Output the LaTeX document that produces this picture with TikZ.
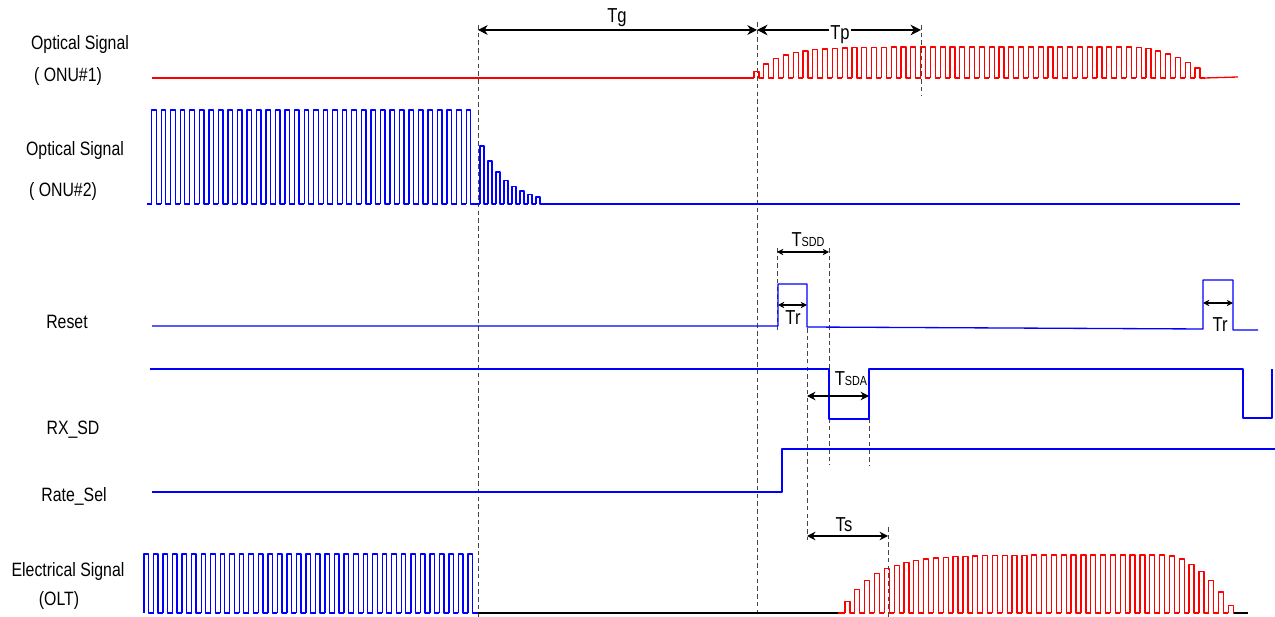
\documentclass[tikz,border=0pt]{standalone}
\usepackage{fontspec}
\setmainfont{Liberation Sans}[FakeStretch=0.82]
\usetikzlibrary{arrows.meta}
\tikzset{
  sigblue/.style={blue, line width=0.75pt},
  sigred/.style={red, line width=0.75pt},
  sigblack/.style={black, line width=0.75pt},
  guide/.style={gray!55!black, line width=0.45pt, dash pattern=on 2.6pt off 1.8pt},
  dim/.style={line width=0.6pt, {Stealth[length=#1, width=#1]}-{Stealth[length=#1, width=#1]}},
  lbl/.style={font=\fontsize{11}{13}\selectfont, inner sep=0pt},
  tlbl/.style={font=\fontsize{11.5}{13}\selectfont, inner sep=1pt},
}
\newcommand{\subsm}[1]{{\fontsize{7.5}{8}\selectfont #1}}
\begin{document}
\begin{tikzpicture}[x=0.02cm, y=-0.02cm, line join=round,
    declare function={rise(\i,\k)=1-0.8*exp(-\i/\k); fall(\i,\n,\d)=1-(max(\i-\n,0)/\d)^2;}]
\useasboundingbox (0,0) rectangle (1275,617);

% signal names
\node[lbl] (on1a) at (80,45) {Optical Signal};
\node[lbl] (on1b) at (68,77) {( ONU\#1)};
\node[lbl] (on2a) at (75,151) {Optical Signal};
\node[lbl] (on2b) at (63,192) {( ONU\#2)};
\node[lbl] (rst) at (67,322) {Reset};
\node[lbl] (rxsd) at (73,430) {RX\_SD};
\node[lbl] (rsel) at (74,496) {Rate\_Sel};
\node[lbl] (elsa) at (68,572) {Electrical Signal};
\node[lbl] (elsb) at (59,601) {(OLT)};

% guide lines
\draw[guide] (478,25) -- (478,617);
\draw[guide] (757,22) -- (757,617);
\draw[guide] (921,25) -- (921,95);
\draw[guide] (777,248) -- (777,330);
\draw[guide] (829,248) -- (829,465);
\draw[guide] (807,328) -- (807,540);
\draw[guide] (869,372) -- (869,465);
\draw[guide] (888,527) -- (888,617);

% ONU#1
\draw[sigred] (152,78) -- (754,78);
\foreach \i in {0,...,45}{
  \pgfmathsetmacro\h{31*rise(\i,2.7)*fall(\i,38,8.5)}
  \draw[sigred] ({754+9.8*\i},78) -- ++(0,-\h) -- ++(5,0) -- ++(0,\h) -- ++(4.8,0);
}
\draw[sigred] ({754+9.8*46},78) -- (1238,77);

% ONU#2
\draw[sigblue] (147,204) -- (151.7,204);
\foreach \i in {0,...,33}
  \draw[sigblue] ({151.7+9.53*\i},204) -- ++(0,-94) -- ++(4.5,0) -- ++(0,94) -- ++(5.03,0);
\draw[sigblue] (475.7,204) -- (480,204);
\foreach \i in {0,...,7}{
  \pgfmathsetmacro\h{58*exp(-0.3*\i)}
  \draw[sigblue] ({480+8*\i},204) -- ++(0,-\h) -- ++(4,0) -- ++(0,\h) -- ++(4,0);
}
\draw[sigblue] (544,204) -- (1240,204);

% Reset
\draw[sigblue] (152,326) -- (778,326) -- (778,284) -- (807,284) -- (807,327)
  -- (1203,329) -- (1203,280) -- (1233,280) -- (1233,330) -- (1258,330);

% RX_SD
\draw[sigblue] (150,369) -- (829,369) -- (829,419) -- (869,419) -- (869,369)
  -- (1243,369) -- (1243,418) -- (1272,418) -- (1272,369);

% Rate_Sel
\draw[sigblue] (152,492) -- (782,492) -- (782,449) -- (1275,449);

% electrical signal (OLT)
\foreach \i in {0,...,34}
  \draw[sigblue] ({144+9.53*\i},613) -- ++(0,-59) -- ++(4.5,0) -- ++(0,59) -- ++(5.03,0);
\draw[sigblack] (477.6,613) -- (838,613);
\draw[sigred] (838,613) -- (845,613);
\foreach \i in {0,...,39}{
  \pgfmathsetmacro\h{58*rise(\i,3.3)*fall(\i,32,7.5)}
  \draw[sigred] ({845+9.83*\i},613) -- ++(0,-\h) -- ++(5,0) -- ++(0,\h) -- ++(4.83,0);
}
\draw[sigblack] (1234,613) -- (1248,613);

% time intervals
\coordinate (tg0) at (478,30);
\coordinate (tg1) at (757,30);
\coordinate (tp1) at (921,30);
\coordinate (sdd0) at (777,252);
\coordinate (sdd1) at (829,252);
\coordinate (tr0) at (778,305);
\coordinate (tr1) at (807,305);
\coordinate (trb0) at (1203,303);
\coordinate (trb1) at (1233,303);
\coordinate (sda0) at (807,396);
\coordinate (sda1) at (869,396);
\coordinate (ts0) at (807,536);
\coordinate (ts1) at (888,536);

\draw[dim=5.5pt] (tg0) -- (tg1);
\draw[dim=6pt] (tg1) -- (tp1);
\draw[dim=3.6pt] (sdd0) -- (sdd1);
\draw[dim=3.6pt] (tr0) -- (tr1);
\draw[dim=3.6pt] (trb0) -- (trb1);
\draw[dim=4.8pt] (sda0) -- (sda1);
\draw[dim=4.8pt] (ts0) -- (ts1);

\node[tlbl] (tg) at (617,18) {Tg};
\node[tlbl, fill=white, inner sep=0.5pt] (tp) at (840,35) {Tp};
\node[tlbl] (tsdd) at (808,240) {T\subsm{SDD}};
\node[tlbl] (tr) at (793,318) {Tr};
\node[tlbl] (trb) at (1220,325) {Tr};
\node[tlbl] (tsda) at (851,379) {T\subsm{SDA}};
\node[tlbl] (ts) at (844,525) {Ts};
\end{tikzpicture}
\end{document}
